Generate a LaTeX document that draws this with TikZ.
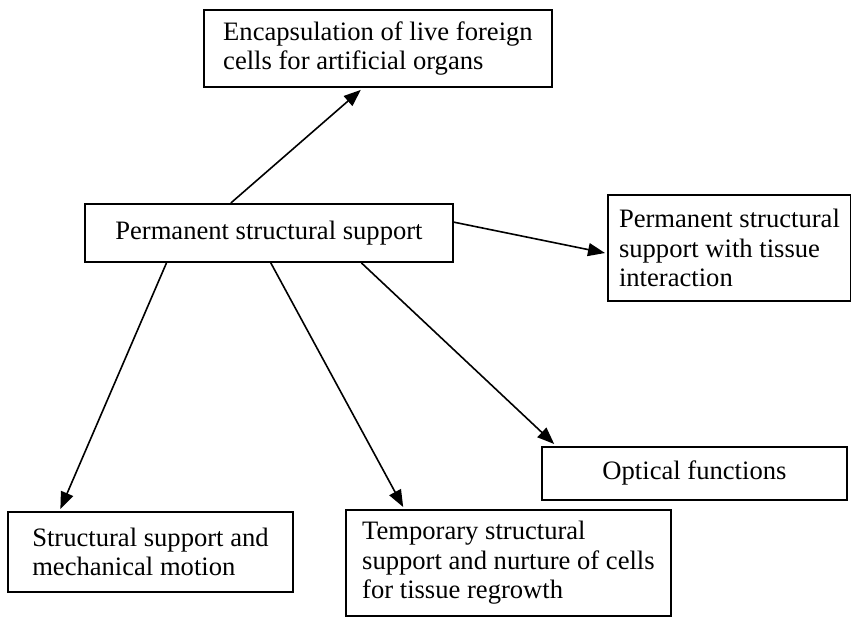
\documentclass[tikz,border=0pt]{standalone}
\usepackage{fontspec}
\setmainfont{Liberation Serif}
\usetikzlibrary{arrows.meta,calc}

\begin{document}
\begin{tikzpicture}[x=1pt,y=-1pt,
  box/.style={draw,line width=1.9pt,inner sep=0pt,anchor=north west,align=left,font=\fontsize{26.6}{29.5}\selectfont},
  arr/.style={-{Triangle[length=17pt,width=13pt]},line width=1.6pt}]
\useasboundingbox (0,0) rectangle (851,616);
\node[box,minimum width=348pt,minimum height=77pt] (encap) at (203,9) {Encapsulation of live foreign\\cells for artificial organs};
\node[box,align=center,minimum width=368pt,minimum height=58pt] (perm) at (84,203) {Permanent structural support};
\node[box,minimum width=243pt,minimum height=106pt] (tissue) at (607,194) {Permanent structural\\support with tissue\\interaction};
\node[box,align=center,minimum width=305pt,minimum height=53pt] (optic) at (541,446) {Optical functions};
\node[box,minimum width=285pt,minimum height=80pt] (mech) at (7,511) {Structural support and\\mechanical motion};
\node[box,minimum width=325pt,minimum height=106pt] (temp) at (345,509) {Temporary structural\\support and nurture of cells\\for tissue regrowth};
\draw[arr] ($(perm.north west)!0.397!(perm.north east)$) -- ($(encap.south west)!0.451!(encap.south east)+(0,2)$);
\draw[arr] ($(perm.north east)!0.32!(perm.south east)$) -- ($(tissue.north west)!0.547!(tissue.south west)+(-2,0)$);
\draw[arr] ($(perm.south west)!0.223!(perm.south east)$) -- ($(mech.north west)!0.186!(mech.north east)+(0,-2)$);
\draw[arr] ($(perm.south west)!0.505!(perm.south east)$) -- ($(temp.north west)!0.178!(temp.north east)+(0,-2)$);
\draw[arr] ($(perm.south west)!0.75!(perm.south east)$) -- ($(optic.north west)!0.043!(optic.north east)+(0,-2)$);
\end{tikzpicture}
\end{document}
